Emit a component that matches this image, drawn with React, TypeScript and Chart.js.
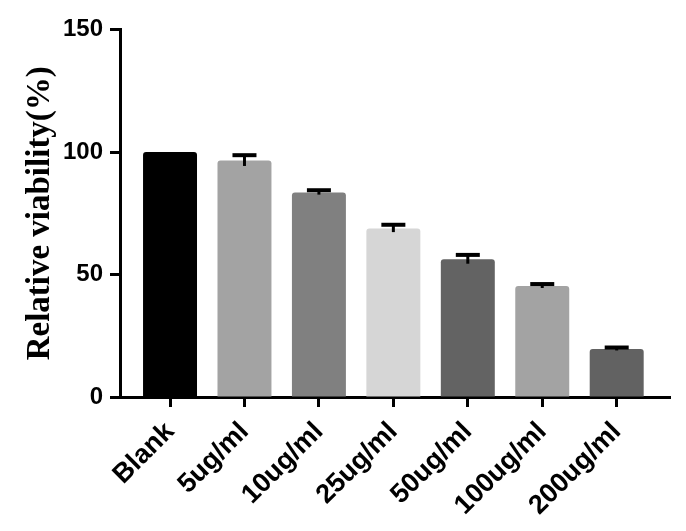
import React, { useEffect, useRef } from "react";
import { Chart, registerables } from "chart.js";

Chart.register(...registerables);

const categories = ["Blank", "5ug/ml", "10ug/ml", "25ug/ml", "50ug/ml", "100ug/ml", "200ug/ml"];
const viability = [100, 96.5, 83.5, 68.8, 56.2, 45.3, 19.6];
const errors = [0, 2.2, 0.9, 1.5, 1.8, 0.8, 0.6];
const barColors = ["#000000", "#a3a3a3", "#808080", "#d6d6d6", "#636363", "#a3a3a3", "#626262"];
const yTicks = [0, 50, 100, 150];

const errorBarPlugin = {
  id: "errorBars",
  afterDatasetsDraw(chart: any) {
    const ctx = chart.ctx;
    const xs = chart.scales.x;
    const ys = chart.scales.y;
    ctx.save();
    ctx.strokeStyle = "#000";
    viability.forEach((v, i) => {
      const e = errors[i];
      if (!e) return;
      const x = xs.getPixelForValue(i);
      const yT = ys.getPixelForValue(v + e);
      const yB = ys.getPixelForValue(v - e);
      ctx.lineWidth = 3;
      ctx.beginPath();
      ctx.moveTo(x, yB);
      ctx.lineTo(x, yT);
      ctx.stroke();
      ctx.lineWidth = 4;
      ctx.beginPath();
      ctx.moveTo(x - 12, yT);
      ctx.lineTo(x + 12, yT);
      ctx.stroke();
    });
    ctx.restore();
  },
};

export default function App() {
  const ref = useRef<HTMLCanvasElement>(null);
  useEffect(() => {
    document.body.style.margin = "0";
    const chart = new Chart(ref.current as HTMLCanvasElement, {
      type: "bar",
      data: {
        datasets: [
          {
            data: viability.map((v, i) => ({ x: i, y: v })),
            backgroundColor: barColors,
            borderRadius: 3,
            barPercentage: 0.725,
            categoryPercentage: 1,
          },
        ],
      },
      options: {
        animation: false,
        responsive: false,
        layout: { padding: { left: 10, right: 16, top: 29.5, bottom: 0 } },
        plugins: { legend: { display: false }, tooltip: { enabled: false } },
        scales: {
          x: {
            type: "linear",
            offset: false,
            min: -0.672,
            max: 6.716,
            afterBuildTicks: (scale: any) => {
              scale.ticks = categories.map((_, i) => ({ value: i }));
            },
            afterFit: (scale: any) => {
              scale.height = 134;
            },
            border: { display: true, color: "#000", width: 3 },
            grid: {
              display: true,
              offset: false,
              drawOnChartArea: false,
              drawTicks: true,
              tickLength: 10,
              tickWidth: 3,
              tickColor: "#000",
            },
            ticks: {
              minRotation: 45,
              maxRotation: 45,
              autoSkip: false,
              padding: 9,
              color: "#000",
              font: { family: "'Liberation Sans', Arial, sans-serif", size: 27, weight: "bold" },
              callback: (value: any) => categories[Math.round(Number(value))] ?? "",
            },
          },
          y: {
            min: 0,
            max: 150,
            afterBuildTicks: (scale: any) => {
              scale.ticks = yTicks.map((v) => ({ value: v }));
            },
            afterFit: (scale: any) => {
              scale.width = 110;
            },
            border: { display: true, color: "#000", width: 3 },
            grid: {
              display: true,
              drawOnChartArea: false,
              drawTicks: true,
              tickLength: 10,
              tickWidth: 3,
              tickColor: "#000",
            },
            ticks: {
              padding: 7,
              color: "#000",
              font: { family: "'Liberation Sans', Arial, sans-serif", size: 24, weight: "bold" },
            },
            title: {
              display: true,
              text: "Relative viability(%)",
              color: "#000",
              padding: { top: 11, bottom: 0 },
              font: { family: "'Liberation Serif', 'Times New Roman', serif", size: 33, weight: "bold" },
            },
          },
        },
      },
      plugins: [errorBarPlugin],
    });
    return () => chart.destroy();
  }, []);
  return (
    <div style={{ width: 686, height: 531 }}>
      <canvas ref={ref} width={686} height={531} />
    </div>
  );
}
